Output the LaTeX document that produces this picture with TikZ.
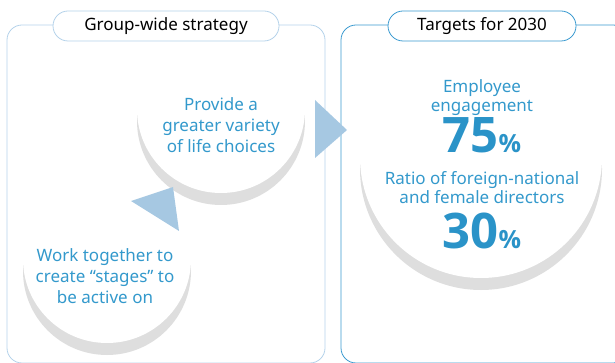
\documentclass[tikz,border=0pt]{standalone}
\usepackage{fontspec}
\setmainfont{Noto Sans}
\newfontfamily\numfont{Open Sans}
\definecolor{txtblue}{HTML}{3399CC}
\definecolor{numblue}{HTML}{2A93C8}
\definecolor{arrblue}{HTML}{A6C8E2}
\definecolor{paleline}{HTML}{B4D2EA}
\definecolor{strongline}{HTML}{3A9AD0}
\definecolor{shade}{HTML}{DEDEDE}
\newcommand{\pctsign}{{\fontsize{25}{25}\selectfont\%}}
\begin{document}
\begin{tikzpicture}[x=1pt,y=-1pt,
  panel/.style={rounded corners=15pt,line width=0.8pt},
  pill/.style={fill=white,rounded corners=15pt,line width=0.8pt,
    minimum width=#1,minimum height=30pt,inner sep=0pt,
    font=\fontsize{17}{20}\selectfont},
  disc/.style={circle,fill=white,minimum size=#1,inner sep=0pt},
  shadowdisc/.style={circle,fill=shade,minimum size=#1,inner sep=0pt},
  goal/.style={text=txtblue,align=center,font=\fontsize{17}{21}\selectfont},
  target/.style={text=txtblue,align=center,font=\fontsize{17}{19}\selectfont},
  big/.style={text=numblue,font=\numfont\fontsize{49}{49}\selectfont\bfseries,inner sep=0pt},
  arrowhead/.style={fill=arrblue}]
\useasboundingbox (0,0) rectangle (615,363);
\clip (0,0) rectangle (615,363);
% panels
\draw[panel,paleline] (7,25) rectangle (325,363);
\draw[panel,strongline] (341,25) rectangle (628,363);
% circles
\node[shadowdisc=168pt] at (221,121) {};
\node[disc=168pt] (choices) at (221,109) {};
\node[shadowdisc=168pt] at (107,271) {};
\node[disc=168pt] (stages) at (107,259) {};
\node[shadowdisc=242pt] at (481,169) {};
\node[disc=242pt] (goals) at (481,157) {};
\node[goal] (choicestxt) at (221,125) {Provide a\\greater variety\\of life choices};
\node[goal] (stagestxt) at (105,276) {Work together to\\create “stages” to\\be active on};
% targets
\node[target] (engage) at (482,98) {Employee\\engagement};
\node[big] (seventyfive) at (482,135) {75\pctsign};
\node[target] (ratio) at (482,188) {Ratio of foreign-national\\and female directors};
\node[big] (thirty) at (482,231) {30\pctsign};
% arrows
\fill[arrowhead] (315,100) -- (347,130) -- (315,158) -- cycle;
\fill[arrowhead] (131,201) -- (173,187) -- (179,231) -- cycle;
% titles
\node[pill=226pt,draw=paleline] (strategy) at (166,26) {Group-wide strategy};
\node[pill=188pt,draw=strongline] (targets) at (482,26) {Targets for 2030};
\end{tikzpicture}
\end{document}
